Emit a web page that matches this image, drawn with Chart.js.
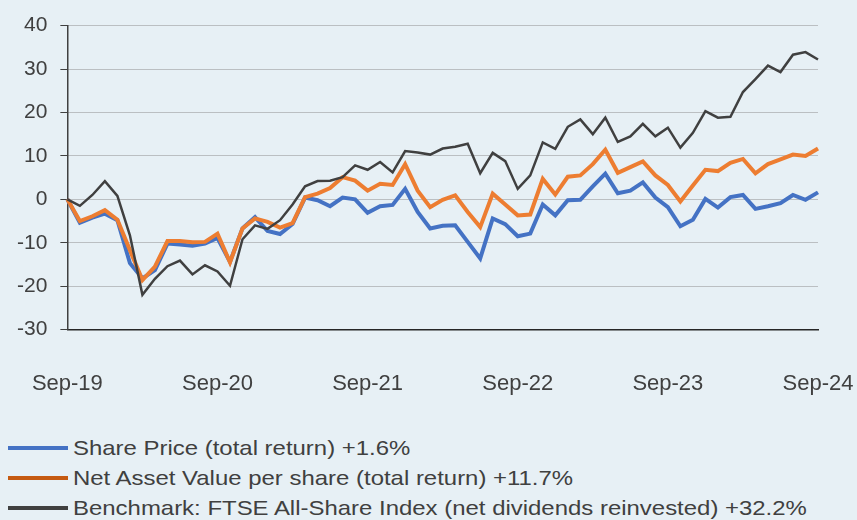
<!DOCTYPE html>
<html>
<head>
<meta charset="utf-8">
<script src="https://cdn.jsdelivr.net/npm/chart.js@4.4.1/dist/chart.umd.min.js"></script>
<style>
  html, body { margin: 0; padding: 0; background: #E7F0F5; }
  #wrap { position: relative; width: 857px; height: 520px; overflow: hidden; }
  #chart { position: absolute; left: 0; top: 0; }
  #legend { position: absolute; left: 8px; top: 433px; font-family: 'Liberation Sans', Arial, sans-serif; font-size: 21px; color: #404040; }
  .row { height: 30px; line-height: 30px; white-space: nowrap; display: flex; align-items: center; }
  .sw { width: 60px; height: 4px; margin-right: 5px; flex: none; }
  .txt { display: inline-block; transform-origin: left center; transform: scaleX(1.14); }
</style>
</head>
<body>
<div id="wrap">
  <canvas id="chart" width="857" height="405"></canvas>
  <div id="legend"></div>
</div>
<script>
const months = [
  'Sep-19', 'Oct-19', 'Nov-19', 'Dec-19', 'Jan-20', 'Feb-20', 'Mar-20', 'Apr-20', 'May-20', 'Jun-20', 'Jul-20', 'Aug-20',
  'Sep-20', 'Oct-20', 'Nov-20', 'Dec-20', 'Jan-21', 'Feb-21', 'Mar-21', 'Apr-21', 'May-21', 'Jun-21', 'Jul-21', 'Aug-21',
  'Sep-21', 'Oct-21', 'Nov-21', 'Dec-21', 'Jan-22', 'Feb-22', 'Mar-22', 'Apr-22', 'May-22', 'Jun-22', 'Jul-22', 'Aug-22',
  'Sep-22', 'Oct-22', 'Nov-22', 'Dec-22', 'Jan-23', 'Feb-23', 'Mar-23', 'Apr-23', 'May-23', 'Jun-23', 'Jul-23', 'Aug-23',
  'Sep-23', 'Oct-23', 'Nov-23', 'Dec-23', 'Jan-24', 'Feb-24', 'Mar-24', 'Apr-24', 'May-24', 'Jun-24', 'Jul-24', 'Aug-24',
  'Sep-24'
];

const sharePrice = [
  0, -5.4, -4.2, -3.3, -4.8, -14.7, -18.2, -16.3, -10.2, -10.4, -10.7, -10.2,
  -8.9, -14.4, -6.7, -4.1, -7.3, -8.0, -5.7, 0.4, -0.2, -1.6, 0.4, 0,
  -3.1, -1.6, -1.3, 2.4, -2.9, -6.7, -6.1, -6.0, -9.8, -13.6, -4.4, -5.7,
  -8.5, -7.9, -1.2, -3.7, -0.2, -0.1, 3.0, 5.9, 1.4, 2.0, 3.9, 0.4,
  -1.8, -6.2, -4.7, 0.1, -1.9, 0.5, 1.0, -2.2, -1.6, -0.9, 1.0, -0.1,
  1.6
];

const nav = [
  0, -5.0, -3.9, -2.5, -4.7, -11.7, -18.6, -15.5, -9.6, -9.6, -9.9, -9.8,
  -7.9, -14.5, -6.7, -4.4, -5.2, -6.5, -5.5, 0.5, 1.3, 2.6, 5.1, 4.3,
  2.0, 3.6, 3.3, 8.1, 2.0, -1.8, -0.1, 0.9, -2.9, -6.4, 1.3, -1.2,
  -3.7, -3.5, 4.7, 1.1, 5.2, 5.5, 8.1, 11.4, 6.1, 7.4, 8.7, 5.5,
  3.3, -0.5, 3.2, 6.8, 6.5, 8.4, 9.3, 6.0, 8.1, 9.2, 10.3, 10.0,
  11.7
];

const benchmark = [
  0, -1.5, 1.0, 4.2, 0.8, -8.3, -22.0, -18.3, -15.4, -14.1, -17.3, -15.2,
  -16.6, -19.9, -9.2, -6.0, -6.8, -4.8, -1.2, 3.0, 4.2, 4.3, 5.1, 7.8,
  6.8, 8.6, 6.2, 11.1, 10.8, 10.3, 11.7, 12.1, 12.8, 6.0, 10.7, 8.8,
  2.4, 5.5, 13.1, 11.6, 16.7, 18.4, 15.0, 18.8, 13.2, 14.5, 17.4, 14.5,
  16.5, 11.9, 15.3, 20.3, 18.8, 19.0, 24.7, 27.7, 30.8, 29.3, 33.3, 33.9,
  32.2
];

const seriesNames = [
  'Share Price (total return) +1.6%',
  'Net Asset Value per share (total return) +11.7%',
  'Benchmark: FTSE All-Share Index (net dividends reinvested) +32.2%'
];
const lineColors = ['#4472C4', '#ED7D31', '#404040'];
const swatchColors = ['#4472C4', '#C55A11', '#404040'];

const textColor = '#404040';

const ctx = document.getElementById('chart').getContext('2d');
const chart = new Chart(ctx, {
  type: 'line',
  data: {
    labels: months,
    datasets: [
      { label: seriesNames[0], data: sharePrice, borderColor: lineColors[0], borderWidth: 4, order: 3 },
      { label: seriesNames[1], data: nav, borderColor: lineColors[1], borderWidth: 4, order: 2 },
      { label: seriesNames[2], data: benchmark, borderColor: lineColors[2], borderWidth: 2.5, order: 1 },
    ],
  },
  options: {
    responsive: false,
    animation: false,
    devicePixelRatio: 1,
    layout: { padding: { left: 4, top: 24, right: 39, bottom: 5 } },
    elements: {
      point: { radius: 0 },
      line: { tension: 0, fill: false },
    },
    plugins: {
      legend: { display: false },
      tooltip: { enabled: false },
    },
    scales: {
      x: {
        // hidden tick marks used only as spacing above the labels
        grid: { display: false, drawTicks: true, tickLength: 38 },
        border: { display: true, color: '#262626', width: 1.5 },
        ticks: {
          autoSkip: false,
          maxRotation: 0,
          padding: 3,
          color: textColor,
          font: { family: "'Liberation Sans', Arial", size: 22 },
          callback: function (value, index) {
            return index % 12 === 0 ? this.getLabelForValue(value) : '';
          },
        },
      },
      y: {
        min: -30,
        max: 40,
        grid: {
          color: '#8E8E8E',
          lineWidth: 1,
          borderDash: [1, 1],
          tickLength: 7,
          tickColor: '#404040',
          tickBorderDash: [],
        },
        border: { display: true, color: '#404040', width: 1.5, dash: [1, 1] },
        ticks: {
          stepSize: 10,
          padding: 13,
          color: textColor,
          font: { family: "'Liberation Sans', Arial", size: 21 },
        },
      },
    },
  },
});

// legend below the chart, one series per row
const legendEl = document.getElementById('legend');
seriesNames.forEach((name, i) => {
  const row = document.createElement('div');
  row.className = 'row';
  const sw = document.createElement('span');
  sw.className = 'sw';
  sw.style.background = swatchColors[i];
  const txt = document.createElement('span');
  txt.className = 'txt';
  txt.textContent = name;
  row.appendChild(sw);
  row.appendChild(txt);
  legendEl.appendChild(row);
});
</script>
</body>
</html>
